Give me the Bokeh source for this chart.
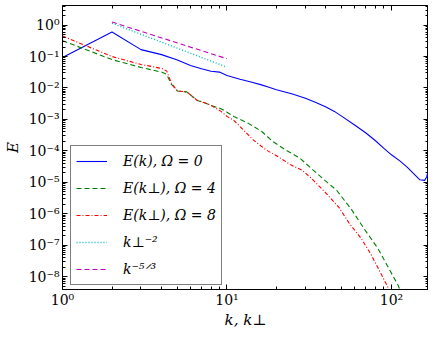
from bokeh.plotting import figure
from bokeh.models import (LogAxis, FixedTicker, CustomJSTickFormatter, Range1d)
from bokeh.embed import file_html
from bokeh.resources import INLINE

# ---- data ----
k_omega0 = [1, 2, 3, 4, 5, 6, 7, 8, 9, 10, 12, 14, 16, 18, 20, 25, 30, 35, 40, 45,
            50, 60, 70, 80, 90, 100, 113, 125, 135, 149, 159, 164, 167, 171]
E_omega0 = [0.093, 0.6, 0.166, 0.115, 0.078, 0.052, 0.041, 0.034, 0.032, 0.025,
            0.019, 0.0155, 0.0128, 0.0105, 0.0088, 0.0064, 0.0047, 0.0034, 0.0025, 0.0018,
            0.00125, 6.5e-4, 3.7e-4, 2.1e-4, 1.2e-4, 7.5e-5, 4.7e-5, 3.0e-5, 2.0e-5, 1.2e-5,
            1.15e-5, 1.5e-5, 2.4e-5, 1e-7]

k_omega4 = [1, 2, 3, 4, 4.3, 4.6, 5, 5.7, 6.6, 7.3, 8.1, 9.2, 10, 11, 13.5, 16.2, 19,
            22.7, 27.6, 33, 39.4, 46.4, 57, 68, 82.5, 96, 110, 118]
E_omega4 = [0.32, 0.08, 0.045, 0.032, 0.027, 0.013, 0.008, 0.0075, 0.004, 0.0034, 0.0027,
            0.0022, 0.0017, 1.24e-3, 7.5e-4, 4.2e-4, 2.0e-4, 1.07e-4, 6.0e-5, 2.6e-5,
            1.15e-5, 5.6e-6, 1.4e-6, 3.4e-7, 8.1e-8, 1.9e-8, 5.2e-9, 2e-9]

k_omega8 = [1, 2, 3, 4, 4.3, 4.6, 5, 5.7, 6.6, 7.3, 8.1, 9.2, 10, 11, 12.6, 14.5, 17.3,
            21, 24.4, 28.7, 33, 39.4, 47.7, 55.5, 65.4, 75, 86, 96, 102]
E_omega8 = [0.45, 0.1, 0.056, 0.042, 0.035, 0.014, 0.008, 0.0075, 0.004, 0.0034, 0.0027,
            0.0018, 1.25e-3, 9.3e-4, 4.6e-4, 2.2e-4, 1.07e-4, 6e-5, 3.6e-5, 2.4e-5,
            1.26e-5, 4.9e-6, 1.65e-6, 4.9e-7, 1.65e-7, 5.2e-8, 1.3e-8, 4.2e-9, 2e-9]

k_ref = [2, 10]
E_kperp_m2 = [1.15, 0.046]
E_k_m53 = [1.25, 0.085]

labels = ["E(k), Ω = 0", "E(k⊥), Ω = 4", "E(k⊥), Ω = 8", "k⊥⁻²", "k⁻⁵ᐟ³"]
x_label = "k, k⊥"
y_label = "E"

x_lim = (1, 168)
y_lim = (3.9e-9, 4.2)
x_decades = [1, 10, 100]
y_decades = [10.0 ** e for e in range(-8, 1)]

SERIF = "DejaVu Serif"

p = figure(width=428, height=331, x_axis_type="log", y_axis_type="log",
           x_range=Range1d(*x_lim), y_range=Range1d(*y_lim),
           output_backend="svg", toolbar_location=None,
           min_border_left=55, min_border_right=0, min_border_top=5, min_border_bottom=0)
p.background_fill_color = "white"
p.border_fill_color = "white"
p.outline_line_color = "black"
p.outline_line_width = 1
p.xgrid.visible = False
p.ygrid.visible = False

r0 = p.line(k_omega0, E_omega0, line_color="#0000ff", line_width=1.1, legend_label=labels[0])
r4 = p.line(k_omega4, E_omega4, line_color="#008000", line_width=1.1, line_dash="5 3",
            legend_label=labels[1])
r8 = p.line(k_omega8, E_omega8, line_color="#ff0000", line_width=1.1, line_dash="4 2 1 2",
            legend_label=labels[2])
rc = p.line(k_ref, E_kperp_m2, line_color="#00bfbf", line_width=1.4, line_dash="1 2",
            legend_label=labels[3])
rm = p.line(k_ref, E_k_m53, line_color="#bf00bf", line_width=1.1, line_dash="5 3",
            legend_label=labels[4])

sup_code = """
const e = Math.round(Math.log10(tick));
const sup = {"-": "\u207b", "0": "\u2070", "1": "\u00b9", "2": "\u00b2", "3": "\u00b3",
             "4": "\u2074", "5": "\u2075", "6": "\u2076", "7": "\u2077", "8": "\u2078", "9": "\u2079"};
return "10" + String(e).split("").map(c => sup[c]).join("");
"""
blank_code = "return '';"

x_minor = [m * d for d in x_decades for m in range(2, 10)]
y_minor = [m * d for d in [10.0 ** e for e in range(-9, 1)] for m in range(2, 10)]
xt = FixedTicker(ticks=x_decades, minor_ticks=x_minor)
yt = FixedTicker(ticks=y_decades, minor_ticks=y_minor)


def style_axis(ax, ticker, labelled):
    ax.ticker = ticker
    ax.major_tick_in = 5
    ax.major_tick_out = 0
    ax.minor_tick_in = 3
    ax.minor_tick_out = 0
    ax.axis_line_color = "black"
    ax.major_tick_line_color = "black"
    ax.minor_tick_line_color = "black"
    if labelled:
        ax.formatter = CustomJSTickFormatter(code=sup_code)
        ax.major_label_text_font = SERIF
        ax.major_label_text_font_size = "14px"
        ax.major_label_text_color = "black"
        ax.major_label_text_line_height = 0.8
        ax.major_label_standoff = 2
    else:
        ax.formatter = CustomJSTickFormatter(code=blank_code)
        ax.major_label_text_font_size = "0px"
        ax.major_label_text_line_height = 0
        ax.major_label_standoff = 0


style_axis(p.xaxis[0], xt, True)
style_axis(p.yaxis[0], yt, True)
p.yaxis[0].major_label_standoff = 3
p.xaxis[0].axis_label = x_label
p.yaxis[0].axis_label = y_label
for ax in (p.xaxis[0], p.yaxis[0]):
    ax.axis_label_text_font = SERIF
    ax.axis_label_text_font_style = "italic"
    ax.axis_label_text_font_size = "15px"
    ax.axis_label_text_color = "black"
    ax.axis_label_text_line_height = 0.8
    ax.axis_label_standoff = 0
p.yaxis[0].axis_label_standoff = 4

# tick-only axes on the top and right edges, pinned to the frame so they take no room
top_ax = LogAxis(fixed_location=y_lim[1])
right_ax = LogAxis(fixed_location=x_lim[1])
style_axis(top_ax, xt, False)
style_axis(right_ax, yt, False)
p.add_layout(top_ax, "above")
p.add_layout(right_ax, "right")

lg = p.legend[0]
lg.location = (8, 4)
lg.border_line_color = "black"
lg.border_line_width = 1
lg.background_fill_color = "white"
lg.background_fill_alpha = 1
lg.padding = 5
lg.spacing = 7
lg.margin = 0
lg.glyph_width = 31
lg.glyph_height = 20
lg.label_height = 20
lg.label_width = 80
lg.label_standoff = 16
lg.label_text_font = SERIF
lg.label_text_font_style = "italic"
lg.label_text_font_size = "14px"
lg.label_text_color = "black"
lg.label_text_line_height = 1.0

open("out.html", "w").write(file_html(p, INLINE))
